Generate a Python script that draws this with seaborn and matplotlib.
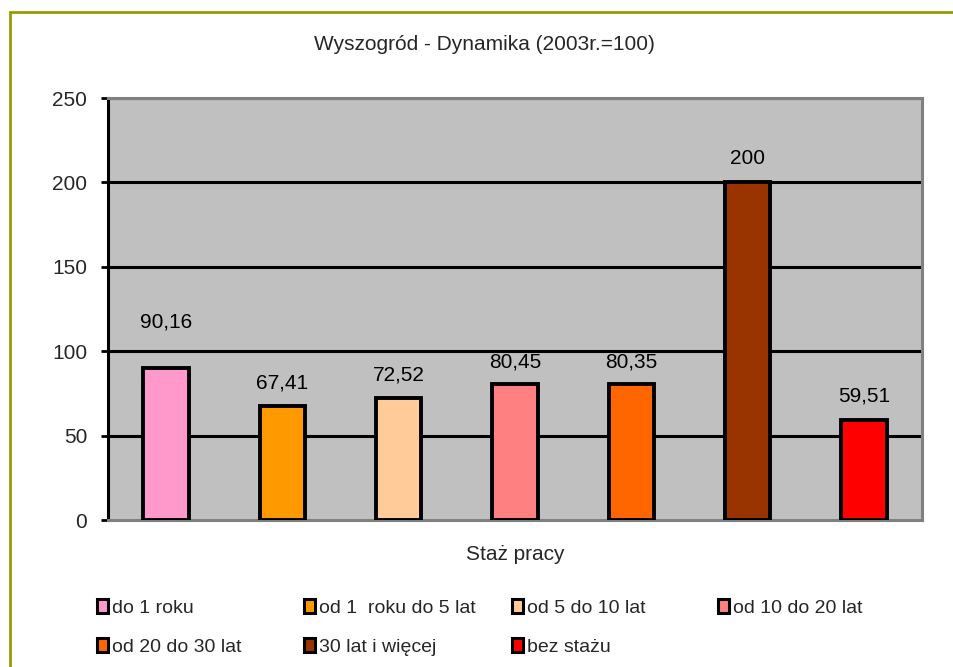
import matplotlib
matplotlib.use("Agg")
import matplotlib.pyplot as plt
import seaborn as sns
import pandas as pd
from matplotlib.patches import Rectangle, Patch

categories = ["do 1 roku", "od 1  roku do 5 lat", "od 5 do 10 lat", "od 10 do 20 lat",
              "od 20 do 30 lat", "30 lat i więcej", "bez stażu"]
values = [90.16, 67.41, 72.52, 80.45, 80.35, 200, 59.51]
value_labels = ["90,16", "67,41", "72,52", "80,45", "80,35", "200", "59,51"]
colors = ["#FF99CC", "#FF9900", "#FFCC99", "#FF8080", "#FF6600", "#993300", "#FF0000"]
label_offsets_px = [46, 23, 23, 22, 22, 24, 24]
yticks = [0, 50, 100, 150, 200, 250]

sns.set_theme(style="white")
plt.rcParams['font.family'] = ['Liberation Sans', 'DejaVu Sans']

df = pd.DataFrame({"cat": categories, "val": values})
FS = 15
W, H = 954, 667

fig = plt.figure(figsize=(W / 100, H / 100), dpi=100)
ax = fig.add_axes([108/W, 1-520/H, 814/W, 422/H])
ax.set_facecolor("#C0C0C0")

sns.barplot(data=df, x="cat", y="val", hue="cat", palette=colors, order=categories,
            hue_order=categories, dodge=False, width=0.39, edgecolor="black",
            linewidth=2.8, saturation=1, legend=False, ax=ax, zorder=3)

ax.set_ylim(0, 250)
ax.set_xlim(-0.5, len(categories) - 0.5)
ax.set_yticks(yticks)
ax.set_yticklabels([str(t) for t in yticks], fontsize=FS)
ax.set_xticks([])
ax.set_xlabel("Staż pracy", fontsize=FS, labelpad=18)
ax.set_ylabel("")
ax.tick_params(axis="y", length=5, width=2, color="black", left=True, pad=10)
for t in yticks[1:]:
    ax.axhline(t, color="black", lw=2.2, zorder=1)

for s in ["top", "right", "bottom"]:
    ax.spines[s].set_color("#808080")
    ax.spines[s].set_linewidth(2.2)
ax.spines["left"].set_color("black")
ax.spines["left"].set_linewidth(2.2)

for i, (v, lab, off) in enumerate(zip(values, value_labels, label_offsets_px)):
    ax.annotate(lab, xy=(i, v), xytext=(0, off * 72 / 100), textcoords="offset points",
                ha="center", va="center", fontsize=FS, color="black")

fig.text(484/W, 1 - 45/H, "Wyszogród - Dynamika (2003r.=100)",
         ha="center", va="center", fontsize=FS)

# legend: 4 columns x 2 rows, row-major, fixed slots like the reference
col_x = [97, 304, 512, 718]
row_y = [608, 647]
for k, (c, lab) in enumerate(zip(colors, categories)):
    r, cc = divmod(k, 4)
    h = Patch(facecolor=c, edgecolor="black", linewidth=2.2)
    lg = fig.legend([h], [lab], loc="center left",
                    bbox_to_anchor=(col_x[cc] / W, 1 - row_y[r] / H),
                    frameon=False, fontsize=14, handlelength=0.55, handleheight=0.75,
                    handletextpad=0.2, borderpad=0, borderaxespad=0)

fig.patches.append(Rectangle((10/W, -0.1), 1.2, 1.1 - 12/H, transform=fig.transFigure,
                             fill=False, edgecolor="#999900", linewidth=2, zorder=0))

fig.savefig("out.png", dpi=100)
